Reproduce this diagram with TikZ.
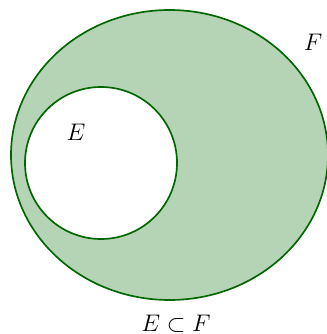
\documentclass[tikz,border=0pt]{standalone}
\usepackage{amsmath}
\usepackage{tikz}
\definecolor{setline}{RGB}{0,102,0}
\definecolor{setfill}{RGB}{181,212,181}

\begin{document}
\begin{tikzpicture}[x=0.6pt, y=-0.6pt,
  setedge/.style={draw=setline, line width=1pt},
  lbl/.style={inner sep=0pt, font=\fontsize{15}{18}\selectfont},
]
\useasboundingbox (0,0) rectangle (326,334);
% outer set F
\filldraw[setedge, fill=setfill] (169.5,155) ellipse [x radius=158.5, y radius=145];
% inner set E
\filldraw[setedge, fill=white] (101,163) circle [radius=76];

\node[lbl] (labE) at (76,132) {$E$};
\node[lbl] (labF) at (313,42) {$F$};
\node[lbl] (rel) at (176,324) {$E \subset F$};
\end{tikzpicture}
\end{document}
